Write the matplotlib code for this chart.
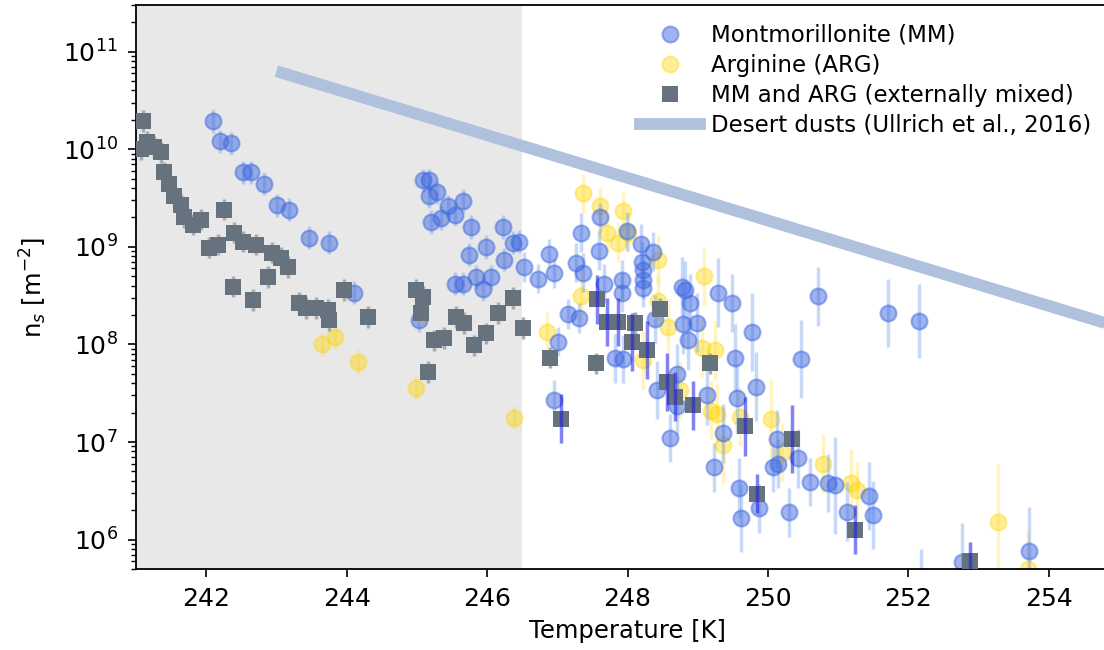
import numpy as np
import matplotlib.pyplot as plt
from matplotlib.lines import Line2D

# Montmorillonite (MM): temperature [K], n_s [m-2], error half-width [decades]
mm_T = [242.09, 242.20, 242.36, 242.53, 242.64, 242.83, 243.01, 243.18, 243.47, 243.75,
        244.11, 245.03, 245.09, 245.18, 245.18, 245.29, 245.20, 245.34, 245.44, 245.54,
        245.66, 245.77, 245.74, 245.99, 246.23, 246.37, 246.46, 246.24, 245.84, 246.06,
        245.94, 245.54, 245.66, 246.53, 246.73, 246.88, 246.95, 247.27, 247.34, 247.37,
        247.59, 247.61, 247.67, 247.92, 247.92, 247.99, 248.19, 248.21, 248.22, 248.22,
        248.22, 248.36, 247.15, 247.31, 247.01, 246.95, 247.82, 247.94, 248.39, 248.42,
        248.70, 248.70, 248.60, 248.78, 248.82, 248.89, 248.79, 248.86, 248.99, 249.13,
        249.29, 249.49, 249.53, 249.56, 249.36, 249.23, 249.77, 249.83, 249.59, 249.62,
        250.71, 251.71, 252.15, 250.47, 249.87, 250.13, 250.07, 250.14, 250.43, 250.30,
        250.60, 250.85, 250.95, 251.12, 251.44, 251.49, 252.76, 253.72, 252.18]
mm_ns = [1.94e10, 1.2e10, 1.15e10, 5.8e9, 5.8e9, 4.45e9, 2.65e9, 2.4e9, 1.24e9, 1.1e9,
         3.4e8, 1.78e8, 4.8e9, 4.8e9, 3.3e9, 3.6e9, 1.8e9, 1.97e9, 2.6e9, 2.13e9,
         2.95e9, 1.6e9, 8.3e8, 1.0e9, 1.6e9, 1.1e9, 1.13e9, 7.4e8, 4.9e8, 4.9e8,
         3.7e8, 4.2e8, 4.2e8, 6.2e8, 4.7e8, 8.5e8, 5.4e8, 6.9e8, 1.4e9, 5.4e8,
         9.1e8, 2.0e9, 4.2e8, 4.6e8, 3.4e8, 1.45e9, 1.08e9, 7.0e8, 5.8e8, 4.6e8,
         3.8e8, 8.9e8, 2.05e8, 1.87e8, 1.07e8, 2.7e7, 7.2e7, 7.1e7, 1.8e8, 3.4e7,
         5.0e7, 2.35e7, 1.1e7, 3.9e8, 3.6e8, 2.65e8, 1.6e8, 1.1e8, 1.67e8, 3.0e7,
         3.4e8, 2.65e8, 7.2e7, 2.8e7, 1.23e7, 5.5e6, 1.35e8, 3.7e7, 3.4e6, 1.67e6,
         3.1e8, 2.1e8, 1.73e8, 7.1e7, 2.1e6, 1.07e7, 5.5e6, 6.0e6, 6.8e6, 1.9e6,
         3.9e6, 3.8e6, 3.6e6, 1.94e6, 2.8e6, 1.8e6, 5.9e5, 7.7e5, 4.0e5]
mm_err = [0.12] * 33 + [0.15, 0.15, 0.15, 0.15, 0.2, 0.2, 0.2,
          0.2, 0.15, 0.2, 0.2, 0.2, 0.2, 0.2, 0.2, 0.2, 0.2,
          0.2, 0.2, 0.15, 0.15, 0.15, 0.2, 0.25, 0.25, 0.25, 0.3,
          0.3, 0.3, 0.25, 0.3, 0.3, 0.3, 0.3, 0.3, 0.3, 0.3,
          0.35, 0.3, 0.35, 0.35, 0.3, 0.25, 0.4, 0.35, 0.3, 0.35,
          0.3, 0.35, 0.38, 0.4, 0.25, 0.3, 0.25, 0.25, 0.3, 0.25,
          0.25, 0.3, 0.5, 0.3, 0.35, 0.35, 0.4, 0.45, 0.3]

# Arginine (ARG)
arg_T = [243.65, 243.84, 244.16, 244.99, 246.38, 246.85, 247.37, 247.61, 247.94, 247.71,
         247.86, 248.00, 248.43, 247.34, 248.43, 248.58, 249.09, 249.06, 249.25, 248.22,
         249.19, 249.27, 249.36, 249.60, 248.75, 250.04, 250.20, 250.78, 251.18, 251.27,
         253.27, 253.70]
arg_ns = [1.0e8, 1.18e8, 6.6e7, 3.6e7, 1.78e7, 1.35e8, 3.55e9, 2.6e9, 2.3e9, 1.4e9,
          1.1e9, 1.4e9, 7.4e8, 3.1e8, 2.8e8, 1.5e8, 5.0e8, 9.1e7, 8.7e7, 6.9e7,
          2.1e7, 1.95e7, 9.3e6, 1.8e7, 3.4e7, 1.74e7, 7.8e6, 6.0e6, 3.8e6, 3.2e6,
          1.5e6, 5.0e5]
arg_err = [0.12, 0.12, 0.12, 0.12, 0.12, 0.2, 0.2, 0.2, 0.2, 0.2,
           0.2, 0.2, 0.25, 0.25, 0.25, 0.25, 0.3, 0.3, 0.3, 0.3,
           0.3, 0.3, 0.4, 0.3, 0.3, 0.4, 0.3, 0.3, 0.35, 0.3,
           0.6, 0.4]

# MM and ARG externally mixed, small (grey) uncertainties
mix_T = [241.10, 241.15, 241.26, 241.07, 241.36, 241.40, 241.47, 241.54, 241.64, 241.69,
         241.81, 241.93, 242.26, 242.04, 242.17, 242.40, 242.53, 242.71, 242.93, 243.07,
         243.17, 242.88, 242.38, 242.67, 243.32, 243.42, 243.57, 243.74, 243.75, 243.96,
         244.31, 244.99, 245.09, 245.06, 245.25, 245.39, 245.56, 245.67, 245.81, 245.99,
         246.16, 246.37, 246.51, 245.16, 246.90, 247.55, 248.46, 249.17, 248.11]
mix_ns = [1.94e10, 1.18e10, 1.05e10, 1.0e10, 9.3e9, 5.8e9, 4.35e9, 3.3e9, 2.7e9, 2.0e9,
          1.69e9, 1.9e9, 2.4e9, 9.8e8, 1.05e9, 1.4e9, 1.13e9, 1.05e9, 8.7e8, 7.7e8,
          6.2e8, 4.9e8, 3.9e8, 2.86e8, 2.66e8, 2.36e8, 2.36e8, 2.25e8, 1.78e8, 3.6e8,
          1.9e8, 3.6e8, 3.07e8, 2.1e8, 1.1e8, 1.16e8, 1.9e8, 1.66e8, 9.8e7, 1.3e8,
          2.1e8, 3.0e8, 1.47e8, 5.2e7, 7.3e7, 6.4e7, 2.3e8, 6.4e7, 1.66e8]
mix_err = [0.11] * len(mix_T)

# MM and ARG externally mixed, larger (blue) uncertainties
mix2_T = [247.05, 247.57, 247.71, 247.86, 248.06, 248.28, 248.56, 248.68, 248.93, 249.67,
          249.84, 250.34, 251.24, 252.88]
mix2_ns = [1.74e7, 2.9e8, 1.7e8, 1.7e8, 1.06e8, 8.8e7, 4.1e7, 2.9e7, 2.37e7, 1.45e7,
           2.95e6, 1.07e7, 1.26e6, 6.0e5]
mix2_err = [0.25, 0.25, 0.25, 0.25, 0.3, 0.3, 0.3, 0.25, 0.25, 0.3,
            0.2, 0.35, 0.25, 0.2]

# Desert dust parameterisation (Ullrich et al., 2016)
dust_T = [243.0, 255.0]
dust_ns = [6.3e10, 1.5e8]


def log_err(ns, dec):
    ns = np.array(ns)
    dec = np.array(dec)
    return [ns - ns / 10**dec, ns * 10**dec - ns]


mm_col = (0.255, 0.41, 0.88, 0.5)
mm_ecol = (0.39, 0.58, 0.93, 0.35)
arg_col = (1.0, 0.84, 0.0, 0.4)
arg_ecol = (1.0, 0.84, 0.0, 0.25)
mix_col = '#66737e'
dust_col = '#b0c1dd'

fig = plt.figure(figsize=(11.04, 6.5), dpi=100)
ax = fig.add_axes([136 / 1104, 81 / 650, (1119 - 136) / 1104, 564 / 650])

ax.axvspan(241, 246.5, color='#e8e8e8', lw=0, zorder=0)
ax.plot(dust_T, dust_ns, color=dust_col, lw=8.5, solid_capstyle='butt', zorder=1)

ax.errorbar(arg_T, arg_ns, yerr=log_err(arg_ns, arg_err), fmt='o', ms=11.5, mew=1.5,
            mfc=arg_col, mec=arg_col, ecolor=arg_ecol, elinewidth=2.5, zorder=2)
ax.errorbar(mm_T, mm_ns, yerr=log_err(mm_ns, mm_err), fmt='o', ms=11.5, mew=1.5,
            mfc=mm_col, mec=mm_col, ecolor=mm_ecol, elinewidth=2.5, zorder=2.2)

ax.errorbar(mix_T, mix_ns, yerr=log_err(mix_ns, mix_err), fmt='none',
            ecolor='#ababab', elinewidth=2.5, zorder=2.5)
ax.plot(mix_T, mix_ns, 's', ms=12, color=mix_col, mew=0, zorder=3)
ax.plot(mix2_T, mix2_ns, 's', ms=12, color=mix_col, mew=0, zorder=3)
ax.errorbar(mix2_T, mix2_ns, yerr=log_err(mix2_ns, mix2_err), fmt='none',
            ecolor=(0.1, 0.1, 0.9, 0.55), elinewidth=2.5, zorder=4)

ax.set_yscale('log')
ax.set_xlim(241, 255)
ax.set_ylim(5e5, 3e11)
ax.set_xticks(np.arange(242, 255, 2))
ax.set_xlabel('Temperature [K]', fontsize=17.5, labelpad=6)
ax.set_ylabel('n$_s$ [m$^{-2}$]', fontsize=17.5, labelpad=10)
ax.tick_params(which='major', labelsize=18, length=6, width=1.2, pad=7)
ax.tick_params(which='minor', length=3.5, width=1)
for s in ax.spines.values():
    s.set_linewidth(1.3)

handles = [
    Line2D([], [], ls='none', marker='o', ms=11.5, mew=1.5, mfc=mm_col, mec=mm_col),
    Line2D([], [], ls='none', marker='o', ms=11.5, mew=1.5, mfc=arg_col, mec=arg_col),
    Line2D([], [], ls='none', marker='s', ms=12, mew=0, color=mix_col),
    Line2D([], [], color=dust_col, lw=8.5),
]
labels = ['Montmorillonite (MM)', 'Arginine (ARG)', 'MM and ARG (externally mixed)',
          'Desert dusts (Ullrich et al., 2016)']
fig.legend(handles, labels, loc='upper left', bbox_to_anchor=(640 / 1104, 1 - 24 / 650),
           frameon=False, fontsize=16.5, borderpad=0, borderaxespad=0,
           handlelength=2.6, handletextpad=0.5, labelspacing=0.3)

plt.savefig('out.png', dpi=100)
